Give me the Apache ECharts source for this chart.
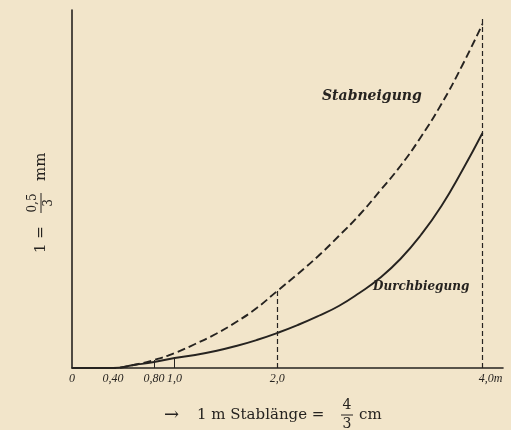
<!DOCTYPE html>
<html>
<head>
<meta charset="utf-8">
<script src="https://cdn.jsdelivr.net/npm/echarts@6/dist/echarts.min.js"></script>
<style>
  html, body { margin: 0; padding: 0; background: #f2e5ca; }
  #chart { width: 511px; height: 430px; }
</style>
</head>
<body>
<div id="chart"></div>
<script>
// Stablänge in m
const stablaenge = [0, 0.4, 0.6, 0.8, 1.0, 1.2, 1.4, 1.6, 1.8, 2.0, 2.2, 2.4, 2.6, 2.8, 3.0, 3.2, 3.4, 3.6, 3.8, 4.0];
// Stabneigung (gestrichelt)
const stabneigung = [0, 0, 3, 8, 15, 24, 34, 46, 60, 77, 94, 112, 132, 153, 177, 202, 231, 264, 302, 344];
// Durchbiegung (ausgezogen)
const durchbiegung = [0, 0, 3, 6, 10, 13, 17, 22, 28, 35, 43, 52, 62, 75, 90, 109, 133, 162, 197, 235];
// Beschriftete Stellen der Abszisse
const tickValues = [0, 0.4, 0.8, 1.0, 2.0, 4.0];
const tickLabels = ['0', '0,40', '0,80', '1,0', '2,0', '4,0m'];

const ink = '#262320';
const paper = '#f2e5ca';
const serif = '"DejaVu Serif"';
const valueAt = (arr, x) => arr[stablaenge.indexOf(x)];

const chart = echarts.init(document.getElementById('chart'));
chart.setOption({
  backgroundColor: paper,
  animation: false,
  grid: { left: 72, right: 8, top: 10, bottom: 62 },
  xAxis: {
    type: 'value', min: 0, max: 4.2,
    axisLine: { show: true, lineStyle: { color: ink, width: 1.6 } },
    axisTick: { show: false },
    splitLine: { show: false },
    axisLabel: {
      customValues: tickValues,
      margin: 5,
      color: ink,
      fontFamily: 'Liberation Serif',
      fontStyle: 'italic',
      fontSize: 12,
      formatter: v => {
        const t = tickLabels[tickValues.indexOf(v)];
        return v === 4 ? '{m|' + t + '}' : t;
      },
      rich: { m: { padding: [0, 0, 0, 16], fontFamily: 'Liberation Serif', fontStyle: 'italic', fontSize: 12, color: ink } }
    }
  },
  yAxis: {
    type: 'value', min: 0, max: 358,
    axisLine: { show: true, lineStyle: { color: ink, width: 1.6 } },
    axisTick: { show: false },
    axisLabel: { show: false },
    splitLine: { show: false }
  },
  series: [
    {
      name: 'Stabneigung', type: 'line', smooth: 0.5,
      symbol: 'none',
      data: stablaenge.map((x, i) => [x, stabneigung[i]]),
      lineStyle: { color: ink, width: 1.9, type: [8, 4] },
      markLine: {
        silent: true, symbol: 'none', label: { show: false },
        lineStyle: { color: ink, width: 1.2, type: [5, 3] },
        data: [
          [{ coord: [2.0, 0] }, { coord: [2.0, valueAt(stabneigung, 2.0)] }],
          [{ coord: [4.0, 0] }, { coord: [4.0, valueAt(stabneigung, 4.0) + 6] }]
        ]
      }
    },
    {
      name: 'Durchbiegung', type: 'line', smooth: 0.5,
      symbol: 'none',
      data: stablaenge.map((x, i) => [x, durchbiegung[i]]),
      lineStyle: { color: ink, width: 1.9 },
      markLine: {
        silent: true, symbol: 'none', label: { show: false },
        lineStyle: { color: ink, width: 1, type: 'solid' },
        data: [
          [{ coord: [0.8, 0] }, { coord: [0.8, valueAt(stabneigung, 0.8)] }],
          [{ coord: [1.0, 0] }, { coord: [1.0, valueAt(durchbiegung, 1.0)] }]
        ]
      }
    }
  ],
  graphic: [
    // Kurvenbeschriftung
    { type: 'text', left: 322, top: 89,
      style: { text: 'Stabneigung', font: 'italic bold 14px ' + serif, fill: ink } },
    { type: 'text', left: 373, top: 281,
      style: { text: 'Durchbiegung', font: 'italic bold 12px ' + serif, fill: ink } },
    // Maßstab der Abszisse
    { type: 'text', x: 164, y: 415,
      style: { text: '\u2192', font: '18px ' + serif, fill: ink, verticalAlign: 'middle' } },
    { type: 'text', x: 197, y: 415,
      style: { text: '1 m Stablänge =', font: '15px ' + serif, fill: ink, verticalAlign: 'middle' } },
    { type: 'text', x: 347, y: 405,
      style: { text: '4', font: '14px ' + serif, fill: ink, align: 'center', verticalAlign: 'middle' } },
    { type: 'line', shape: { x1: 341, y1: 415, x2: 353, y2: 415 }, style: { stroke: ink, lineWidth: 1 } },
    { type: 'text', x: 347, y: 424,
      style: { text: '3', font: '14px ' + serif, fill: ink, align: 'center', verticalAlign: 'middle' } },
    { type: 'text', x: 359, y: 415,
      style: { text: 'cm', font: '15px ' + serif, fill: ink, verticalAlign: 'middle' } },
    // Maßstab der Ordinate (gedreht)
    { type: 'group', x: 41, y: 203, rotation: Math.PI / 2,
      children: [
        { type: 'text', x: -50, y: 0,
          style: { text: '1 =', font: '15px ' + serif, fill: ink, verticalAlign: 'middle' } },
        { type: 'text', x: 0, y: -8,
          style: { text: '0,5', font: '12px ' + serif, fill: ink, align: 'center', verticalAlign: 'middle' } },
        { type: 'line', shape: { x1: -10, y1: 0, x2: 10, y2: 0 }, style: { stroke: ink, lineWidth: 1 } },
        { type: 'text', x: 0, y: 8,
          style: { text: '3', font: '12px ' + serif, fill: ink, align: 'center', verticalAlign: 'middle' } },
        { type: 'text', x: 22, y: 0,
          style: { text: 'mm', font: '15px ' + serif, fill: ink, verticalAlign: 'middle' } }
      ]
    }
  ]
});
</script>
</body>
</html>
